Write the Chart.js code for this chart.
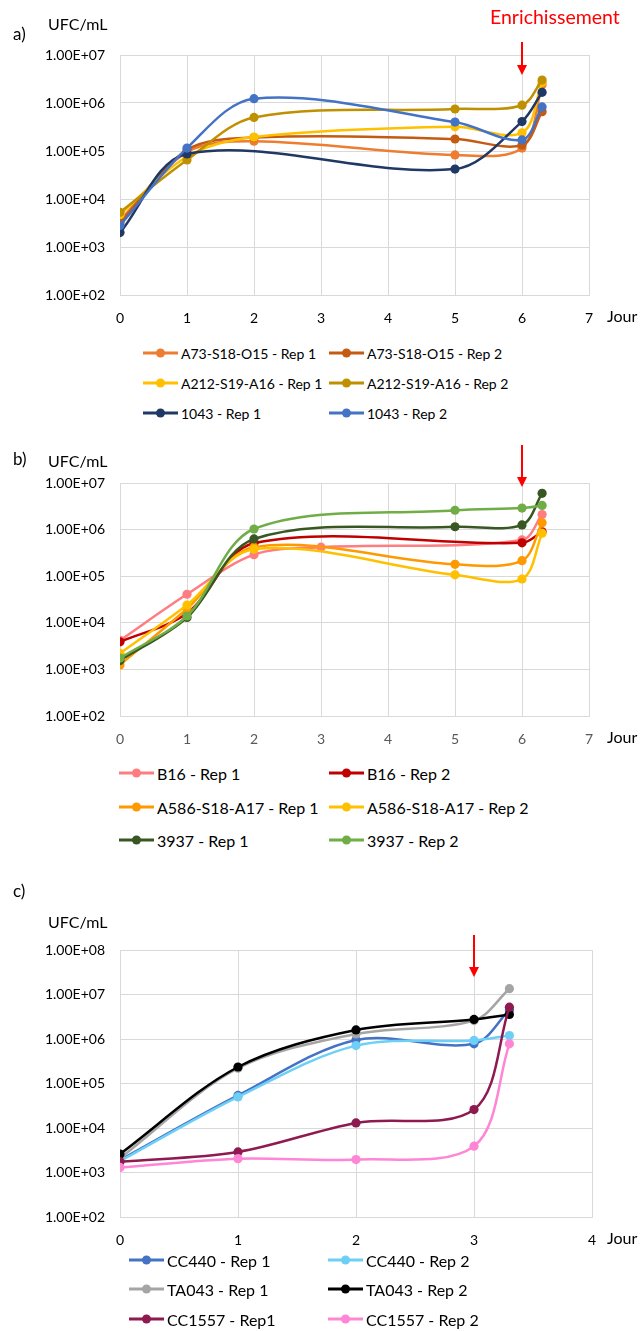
<!DOCTYPE html>
<html>
<head>
<meta charset="utf-8">
<script src="https://cdn.jsdelivr.net/npm/chart.js@4.4.1/dist/chart.umd.min.js"></script>
<style>
  body { margin: 0; width: 642px; height: 1331px; background: #fff; position: relative; overflow: hidden; font-family: Lato, sans-serif; }
  .box { position: absolute; left: 0; width: 642px; }
  .item { position: absolute; display: flex; align-items: center; white-space: nowrap; color: #000; transform: translateY(-50%); }
  .mark { position: relative; width: 35px; height: 3px; margin-right: 3px; }
  .mark i { position: absolute; width: 9px; height: 9px; border-radius: 50%; top: -3px; left: 13px; }
</style>
</head>
<body>
<div class="box" style="top:0"><canvas id="chartA" width="642" height="335"></canvas></div>
<div class="box" id="legendA"></div>
<div class="box" style="top:430px"><canvas id="chartB" width="642" height="326"></canvas></div>
<div class="box" id="legendB"></div>
<div class="box" style="top:870px"><canvas id="chartC" width="642" height="387"></canvas></div>
<div class="box" id="legendC"></div>

<script>
// a) sampling days and UFC/mL
const daysA = [0, 1, 2, 5, 6, 6.3];
const a73Rep1 = [3600, 95000, 160000, 83000, 115000, 2400000];
const a73Rep2 = [3200, 105000, 190000, 178000, 133000, 660000];
const a212Rep1 = [4700, 76000, 195000, 320000, 240000, 2700000];
const a212Rep2 = [5300, 65000, 500000, 750000, 900000, 3000000];
const s1043Rep1 = [2000, 87000, null, 42000, 410000, 1670000];
const s1043Rep2 = [2800, 115000, 1230000, 400000, 170000, 830000];

// b)
const daysB = [0, 1, 2, 3, 5, 6, 6.3];
const b16Rep1 = [4200, 41000, 290000, 420000, null, 600000, 2100000];
const b16Rep2 = [3900, 16000, 510000, null, null, 520000, 900000];
const a586Rep1 = [1250, 20000, 420000, null, 180000, 215000, 1400000];
const a586Rep2 = [2200, 24000, 380000, null, 107000, 87000, 840000];
const s3937Rep1 = [1550, 13000, 630000, null, 1150000, 1260000, 6000000];
const s3937Rep2 = [1750, 14000, 1030000, null, 2600000, 2900000, 3300000];

// c)
const daysC = [0, 1, 2, 3, 3.3];
const cc440Rep1 = [1900, 54000, 950000, 780000, 4500000];
const cc440Rep2 = [1800, 50000, 710000, 930000, 1200000];
const ta043Rep1 = [2100, 220000, 1300000, 2600000, 13500000];
const ta043Rep2 = [2600, 235000, 1600000, 2750000, 3550000];
const cc1557Rep1 = [1750, 2900, 13000, 26000, 5200000];
const cc1557Rep2 = [1300, 2050, 1950, 3900, 780000];

// tick values
const decadesA = [1e2, 1e3, 1e4, 1e5, 1e6, 1e7];
const decadesC = [1e2, 1e3, 1e4, 1e5, 1e6, 1e7, 1e8];

Chart.defaults.font.family = 'Lato';
Chart.defaults.color = '#000';

function sci(v) {
    const e = Math.floor(Math.log10(v) + 1e-9);
    const m = (v / Math.pow(10, e)).toFixed(2);
    return m + 'E' + (e < 0 ? '-' : '+') + String(Math.abs(e)).padStart(2, '0');
}

function pairs(days, vals) {
    const out = [];
    days.forEach((d, i) => { if (vals[i] !== null) out.push({ x: d, y: vals[i] }); });
    return out;
}

function makeSets(days, list) {
    return list.map((s, i) => ({
        label: s[0],
        data: pairs(days, s[1]),
        borderColor: s[2],
        backgroundColor: s[2],
        pointBackgroundColor: s[2],
        pointBorderWidth: 0,
        pointRadius: 4.6,
        borderWidth: 2.5,
        tension: 0.33,
        order: -i
    }));
}

// labels, arrow and axis names drawn on the canvas
const decor = {
    id: 'decor',
    afterDraw(chart, args, o) {
        const ctx = chart.ctx, area = chart.chartArea;
        ctx.save();
        ctx.textBaseline = 'middle';
        ctx.fillStyle = '#000';
        ctx.font = '17px Lato';
        ctx.fillText(o.panel, 13, area.top + o.panelY);
        ctx.font = '16px Lato';
        ctx.fillText('UFC/mL', 48, area.top + o.unitY);
        ctx.fillText('Jour', 607, area.bottom + 22);
        if (o.title) {
            ctx.fillStyle = '#ff0000';
            ctx.font = '19.5px Lato';
            ctx.fillText(o.title, 490, 18);
        }
        const x = chart.scales.x.getPixelForValue(o.arrowDay);
        const y0 = area.top + o.arrowFrom, y1 = area.top + o.arrowTo;
        ctx.strokeStyle = '#ff0000';
        ctx.fillStyle = '#ff0000';
        ctx.lineWidth = 2;
        ctx.beginPath();
        ctx.moveTo(x, y0);
        ctx.lineTo(x, y1 - 9);
        ctx.stroke();
        ctx.beginPath();
        ctx.moveTo(x - 5, y1 - 10);
        ctx.lineTo(x + 5, y1 - 10);
        ctx.lineTo(x, y1);
        ctx.closePath();
        ctx.fill();
        ctx.restore();
    }
};

function makeChart(id, days, list, cfg) {
    return new Chart(document.getElementById(id), {
        type: 'line',
        data: { datasets: makeSets(days, list) },
        plugins: [decor],
        options: {
            responsive: false,
            animation: false,
            layout: { padding: { top: cfg.top, right: cfg.right, left: 0, bottom: 0 } },
            plugins: {
                legend: { display: false },
                tooltip: { enabled: false },
                decor: cfg.decor
            },
            scales: {
                x: {
                    type: 'linear',
                    min: 0,
                    max: cfg.xMax,
                    afterFit: s => { s.height = 40; },
                    ticks: { stepSize: 1, padding: 15, color: cfg.xColor, font: { size: 14 } },
                    grid: { color: '#d9d9d9', drawTicks: false },
                    border: { color: '#d9d9d9' }
                },
                y: {
                    type: 'logarithmic',
                    min: cfg.decades[0],
                    max: cfg.decades[cfg.decades.length - 1],
                    afterFit: s => { s.width = 120; },
                    afterBuildTicks: s => { s.ticks = cfg.decades.map(v => ({ value: v })); },
                    ticks: { padding: 15, font: { size: 14 }, callback: v => sci(v) },
                    grid: { color: '#d9d9d9', drawTicks: false },
                    border: { color: '#d9d9d9' }
                }
            }
        }
    });
}

function htmlLegend(chart, elId, lg) {
    const el = document.getElementById(elId);
    chart.data.datasets.forEach((ds, i) => {
        const it = document.createElement('div');
        it.className = 'item';
        it.style.left = lg.cols[i % 2] + 'px';
        it.style.top = lg.rows[Math.floor(i / 2)] + 'px';
        it.style.fontSize = lg.size + 'px';
        it.innerHTML = '<span class="mark" style="background:' + ds.borderColor + '"><i style="background:' +
            ds.borderColor + '"></i></span>' + ds.label;
        el.appendChild(it);
    });
}

const chartA = makeChart('chartA', daysA, [
    ['A73-S18-O15 - Rep 1', a73Rep1, '#ED7D31'],
    ['A73-S18-O15 - Rep 2', a73Rep2, '#C55A11'],
    ['A212-S19-A16 - Rep 1', a212Rep1, '#FFC000'],
    ['A212-S19-A16 - Rep 2', a212Rep2, '#BF9000'],
    ['1043 - Rep 1', s1043Rep1, '#203864'],
    ['1043 - Rep 2', s1043Rep2, '#4472C4']
], {
    top: 55, right: 53, xMax: 7, xColor: '#000', decades: decadesA,
    decor: { panel: 'a)', panelY: -20, unitY: -30, title: 'Enrichissement', arrowDay: 6, arrowFrom: -13, arrowTo: 20 }
});

const chartB = makeChart('chartB', daysB, [
    ['B16 - Rep 1', b16Rep1, '#FF7C80'],
    ['B16 - Rep 2', b16Rep2, '#C00000'],
    ['A586-S18-A17 - Rep 1', a586Rep1, '#FF9900'],
    ['A586-S18-A17 - Rep 2', a586Rep2, '#FFC000'],
    ['3937 - Rep 1', s3937Rep1, '#385723'],
    ['3937 - Rep 2', s3937Rep2, '#70AD47']
], {
    top: 53, right: 53, xMax: 7, xColor: '#595959', decades: decadesA,
    decor: { panel: 'b)', panelY: -23, unitY: -21, arrowDay: 6, arrowFrom: -38, arrowTo: 4 }
});

const chartC = makeChart('chartC', daysC, [
    ['CC440 - Rep 1', cc440Rep1, '#4472C4'],
    ['CC440 - Rep 2', cc440Rep2, '#6DCFF6'],
    ['TA043 - Rep 1', ta043Rep1, '#A5A5A5'],
    ['TA043 - Rep 2', ta043Rep2, '#000000'],
    ['CC1557 - Rep1', cc1557Rep1, '#8E1A50'],
    ['CC1557 - Rep 2', cc1557Rep2, '#FF85D5']
], {
    top: 80, right: 50, xMax: 4, xColor: '#000', decades: decadesC,
    decor: { panel: 'c)', panelY: -58, unitY: -27, arrowDay: 3, arrowFrom: -15, arrowTo: 27 }
});

htmlLegend(chartA, 'legendA', { cols: [143, 329], rows: [353, 383, 413], size: 14 });
htmlLegend(chartB, 'legendB', { cols: [119, 329], rows: [773, 807, 840], size: 16 });
htmlLegend(chartC, 'legendC', { cols: [129, 328], rows: [1260, 1289, 1319], size: 16 });
</script>
</body>
</html>
